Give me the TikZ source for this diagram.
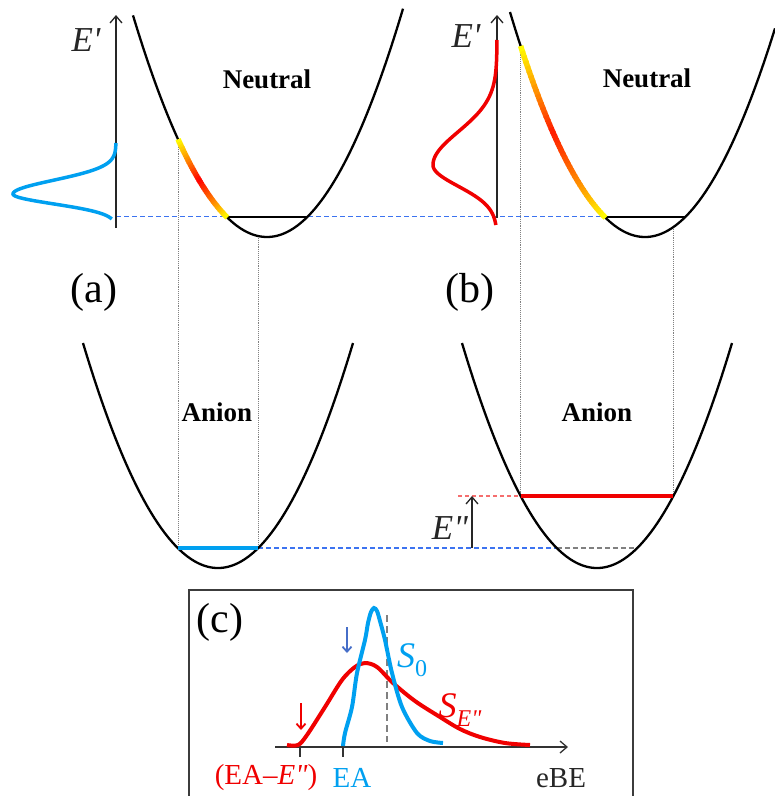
\documentclass[tikz,border=0pt]{standalone}
\usepackage{fontspec}
\setmainfont{Liberation Serif}
\usetikzlibrary{arrows.meta}
\definecolor{cblue}{RGB}{0,160,240}
\definecolor{cred}{RGB}{240,0,0}
\definecolor{dblue}{RGB}{60,115,240}
\definecolor{sblue}{RGB}{70,110,200}
\definecolor{lred}{RGB}{245,110,110}
\definecolor{boxc}{RGB}{60,60,60}
\tikzset{
  curve/.style={line width=2.3pt, black},
  guide/.style={gray, densely dotted, line width=0.9pt},
  bdash/.style={dblue, dash pattern=on 5pt off 3pt, line width=1.2pt},
  gdash/.style={gray, dash pattern=on 5pt off 3pt, line width=1.1pt},
  rdash/.style={lred, dash pattern=on 4pt off 3pt, line width=1.1pt},
  eaxis/.style={-{Straight Barb[length=7pt,width=12pt]}, line width=1.3pt, black!85},
  lbl/.style={font=\fontsize{27}{30}\selectfont\bfseries},
  plab/.style={font=\fontsize{42}{46}\selectfont},
  elab/.style={font=\fontsize{35}{38}\selectfont\itshape, black!85},
  tlab/.style={font=\fontsize{29}{32}\selectfont},
  darr/.style={-{Straight Barb[length=5pt,width=9pt]}, line width=1.8pt},
}
\begin{document}
\begin{tikzpicture}[x=1pt,y=-1pt,
  declare function={par(\x,\xv,\yv)=\yv-0.01235*(\x-\xv)*(\x-\xv);
                     ga(\u,\s)=exp(-(\u/\s)*(\u/\s));}]
\useasboundingbox (0,0) rectangle (775,796);

% ---------- guide lines ----------
\draw[guide] (178,{par(178,267,237)}) -- (178,548);
\draw[guide] (258,{par(258,267,237)}) -- (258,548);
\draw[guide] (520.6,{par(520.6,645,237)}) -- (520.6,496);
\draw[guide] (673.4,{par(673.4,645,237)}) -- (673.4,496);

% dashed reference lines
\coordinate (la) at (116,216.5);
\coordinate (lb) at (605,216.5);
\draw[bdash] (la) -- (lb);
\coordinate (ar) at (258,548);
\coordinate (bl) at (556.8,548);
\coordinate (br) at (637.2,548);
\draw[bdash] (ar) -- (bl);
\draw[gdash] (bl) -- (br);
\coordinate (rl) at (458,496);
\coordinate (rr) at (520.6,496);
\draw[rdash] (rl) -- (rr);

% ---------- parabolas ----------
\draw[curve] plot[domain=133:403, samples=120] (\x,{par(\x,267,237)});
\draw[curve] plot[domain=510:775, samples=120] (\x,{par(\x,645,237)});
\draw[curve] plot[domain=83:353, samples=120] (\x,{par(\x,218,568)});
\draw[curve] plot[domain=462:732, samples=120] (\x,{par(\x,597,568)});

% levels
\draw[curve] (227,217.2) -- (307,217.2);
\draw[curve] (605,217.2) -- (685,217.2);
\draw[cblue, line width=4pt] (178,548) -- (258,548);
\draw[cred, line width=4.5pt] (520.6,496) -- (673.4,496);

% gradient segments
\foreach \i in {0,...,39}{
  \pgfmathsetmacro\xa{178+49*\i/40}
  \pgfmathsetmacro\xb{178+49*(\i+1.3)/40}
  \pgfmathsetmacro\t{(\i+0.5)/40}
  \pgfmathtruncatemacro\p{\t<0.43 ? 100*\t/0.43 : 100*(1-\t)/0.57}
  \draw[line width=5.5pt, color=red!\p!yellow] (\xa,{par(\xa,267,237)}) -- (\xb,{par(\xb,267,237)});
}
\foreach \i in {0,...,49}{
  \pgfmathsetmacro\xa{520.6+84.4*\i/50}
  \pgfmathsetmacro\xb{520.6+84.4*(\i+1.3)/50}
  \pgfmathsetmacro\t{(\i+0.5)/50}
  \pgfmathtruncatemacro\p{\t<0.38 ? 90*\t/0.38 : 90*(1-\t)/0.62}
  \draw[line width=5.5pt, color=red!\p!yellow] (\xa,{par(\xa,645,237)}) -- (\xb,{par(\xb,645,237)});
}

% ---------- E' axes and distributions ----------
\coordinate (ea0) at (116,228);
\coordinate (ea1) at (116,15);
\draw[eaxis] (ea0) -- (ea1);
\coordinate (eb0) at (497,218);
\coordinate (eb1) at (497,15);
\draw[eaxis] (eb0) -- (eb1);
\draw[cblue, line width=3.5pt] plot[domain=143:219, samples=120, variable=\t]
  ({116-103*ga(\t-194,(\t<194 ? 19.5 : 14))},\t);
\draw[cred, line width=3.5pt] plot[domain=40:225, samples=150, variable=\t]
  ({497-64*ga(\t-165,(\t<165 ? 47 : 30))},\t);

\node[elab] (Ea) at (86,40) {E\textquotesingle};
\node[elab] (Eb) at (466,36) {E\textquotesingle};

% E'' arrow
\coordinate (e2a) at (472,548);
\coordinate (e2b) at (472,496);
\draw[eaxis] (e2a) -- (e2b);
\node[elab] (Epp) at (450,528) {E\textquotedbl};

% labels
\node[lbl] (na) at (267,79) {Neutral};
\node[lbl] (nb) at (647,78) {Neutral};
\node[lbl] (aa) at (217,412) {Anion};
\node[lbl] (ab) at (597,412) {Anion};
\node[plab] (pa) at (94,292) {(a)};
\node[plab] (pb) at (470,292) {(b)};

% ---------- panel (c) ----------
\draw[boxc, line width=2pt] (189,800) -- (189,590) -- (633,590) -- (633,800);
\node[plab] (pc) at (220,622) {(c)};

\coordinate (x0) at (275,747);
\coordinate (x1) at (568,747);
\draw[-{Straight Barb[length=7pt,width=12pt]}, line width=1.3pt, black!80] (x0) -- (x1);
\draw[line width=2pt, black!80] (300,747) -- (300,757);
\draw[line width=2pt, black!80] (343,747) -- (343,757);

\draw[gray, line width=2.5pt, dash pattern=on 7pt off 4pt] (387,615) -- (387,742);

\draw[cred, line width=4pt] plot[smooth, tension=0.55] coordinates {
  (287,745) (298,745) (307,735) (325,707) (342,680) (355,667) (365,663)
  (377,667) (393,683) (415,701) (440,717) (460,729) (480,737) (505,743) (530,745)};
\draw[cblue, line width=4pt] plot[smooth, tension=0.5] coordinates {
  (343,746) (345,733) (352,707) (357,673) (365,640) (368,623) (371,612) (374,608)
  (377,611) (380,621) (385,640) (392,673) (402,707) (417,733) (430,741) (443,743)};

\coordinate (ba0) at (347,627);
\coordinate (ba1) at (347,653);
\draw[darr, sblue] (ba0) -- (ba1);
\coordinate (ra0) at (301,703);
\coordinate (ra1) at (301,730);
\draw[darr, cred] (ra0) -- (ra1);

\node[font=\fontsize{36}{40}\selectfont, cblue] (s0) at (412,660) {\textit{S}\raisebox{-0.25em}{\fontsize{24}{26}\selectfont 0}};
\node[font=\fontsize{36}{40}\selectfont, cred] (se) at (460,710) {\textit{S}\raisebox{-0.25em}{\fontsize{24}{26}\selectfont\itshape E\textquotedbl}};

\node[tlab, cred] (tea2) at (266,778) {(EA–\textit{E\textquotedbl})};
\node[tlab, cblue] (tea) at (352,778) {EA};
\node[tlab, black!85] (tebe) at (561,778) {eBE};
\end{tikzpicture}
\end{document}
